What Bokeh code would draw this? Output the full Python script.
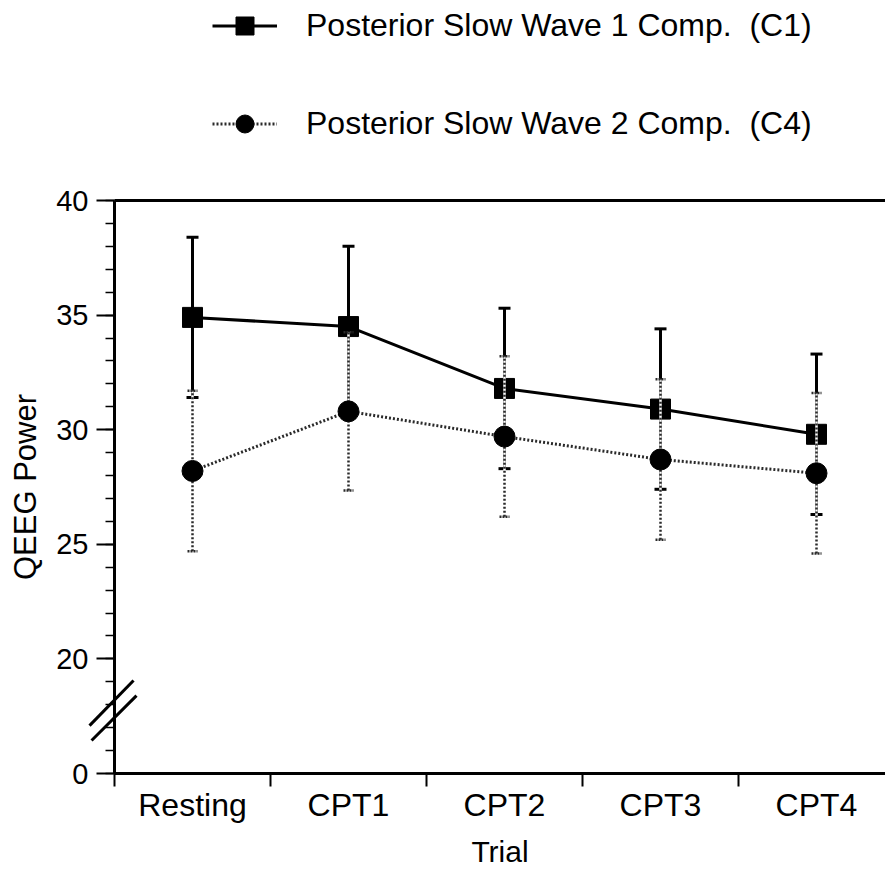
import numpy as np
from bokeh.plotting import figure
from bokeh.models import Range1d, FixedTicker, Legend, LegendItem, Arrow
from bokeh.embed import file_html
from bokeh.resources import INLINE

# ---------------- data ----------------
trials = ["Resting", "CPT1", "CPT2", "CPT3", "CPT4"]
c1_mean = [34.9, 34.5, 31.8, 30.9, 29.8]
c1_err = [3.5, 3.5, 3.5, 3.5, 3.5]
c2_mean = [28.2, 30.8, 29.7, 28.7, 28.1]
c2_err = [3.5, 3.45, 3.5, 3.5, 3.5]
y_major = [15, 20, 25, 30, 35, 40]
y_major_labels = ["0", "20", "25", "30", "35", "40"]
c1_label = "Posterior Slow Wave 1 Comp.  (C1)"
c2_label = "Posterior Slow Wave 2 Comp.  (C4)"
x_title = "Trial"
y_title = "QEEG Power"

# ---------------- style / layout ----------------
FONT = "Liberation Sans"
W, H = 885, 870                   # canvas
LEFT, TOP, BOTTOM = 114, 200, 97  # where the axes sit inside the canvas (px)
PX_PER_TRIAL = 156
PX_PER_UNIT = 573 / (y_major[-1] - y_major[0])
GREY = "#2a2a2a"

x = np.arange(len(trials)) + 0.5
c1m, c1e = np.array(c1_mean), np.array(c1_err)
c2m, c2e = np.array(c2_mean), np.array(c2_err)

x_lo, x_hi = -LEFT / PX_PER_TRIAL, (W - LEFT) / PX_PER_TRIAL
y_lo, y_hi = y_major[0] - BOTTOM / PX_PER_UNIT, y_major[-1] + TOP / PX_PER_UNIT

p = figure(width=W, height=H, output_backend="svg", toolbar_location=None,
           x_range=Range1d(x_lo, x_hi), y_range=Range1d(y_lo, y_hi),
           min_border_left=0, min_border_top=0, min_border_bottom=0, min_border_right=0)
p.outline_line_color = None
p.grid.visible = False

# top border line of the plotting box
p.segment([0], [y_major[-1]], [x_hi], [y_major[-1]], line_color="black", line_width=3)

# ---- C1 (solid black) ----
p.segment(x, c1m - c1e, x, c1m + c1e, line_color="black", line_width=3)
p.scatter(x, c1m + c1e, marker="dash", size=12, line_color="black", line_width=3)
p.scatter(x, c1m - c1e, marker="dash", size=12, line_color="black", line_width=3)
c1_line = p.line(x, c1m, line_color="black", line_width=3)
c1_pts = p.scatter(x, c1m, marker="square", size=20, fill_color="black", line_color="black")

# ---- C2 (dotted grey) ----
p.segment(x, c2m - c2e, x, c2m + c2e, line_color="white", line_width=2.5)
p.segment(x, c2m - c2e, x, c2m + c2e, line_color=GREY, line_width=2.5, line_dash="2 2")
p.scatter(x, c2m + c2e, marker="dash", size=10, line_color=GREY, line_width=2.5, line_dash="2 1")
p.scatter(x, c2m - c2e, marker="dash", size=10, line_color=GREY, line_width=2.5, line_dash="2 1")
c2_line = p.line(x, c2m, line_color=GREY, line_width=3, line_dash="2 2")
c2_pts = p.scatter(x, c2m, marker="circle", size=21, fill_color="black", line_color="black")

# ---- axes ----
xa = p.xaxis[0]
xa.fixed_location = y_major[0]
xa.bounds = (0, x_hi)
xa.ticker = FixedTicker(ticks=list(x), minor_ticks=list(range(len(trials) + 1)))
xa.major_label_overrides = {float(v): t for v, t in zip(x, trials)}
xa.major_tick_line_color = None
xa.major_tick_out = 0
xa.major_tick_in = 0
xa.minor_tick_line_color = "black"
xa.minor_tick_line_width = 2
xa.minor_tick_out = 13
xa.minor_tick_in = 0
xa.axis_line_width = 3
xa.axis_line_color = "black"
xa.major_label_text_font = FONT
xa.major_label_text_font_size = "32px"
xa.major_label_text_color = "black"
xa.major_label_standoff = 0
xa.axis_label = x_title
xa.axis_label_text_font = FONT
xa.axis_label_text_font_size = "30px"
xa.axis_label_text_font_style = "normal"
xa.axis_label_text_color = "black"
xa.axis_label_standoff = 9

ya = p.yaxis[0]
ya.fixed_location = 0
ya.bounds = (y_major[0], y_major[-1])
ya.ticker = FixedTicker(ticks=y_major, minor_ticks=list(range(y_major[0], y_major[-1] + 1)))
ya.major_label_overrides = {v: t for v, t in zip(y_major, y_major_labels)}
ya.major_tick_line_width = 2
ya.major_tick_out = 18
ya.major_tick_in = 0
ya.minor_tick_line_width = 1.5
ya.minor_tick_out = 9
ya.minor_tick_in = 0
ya.axis_line_width = 3
ya.axis_line_color = "black"
ya.major_label_text_font = FONT
ya.major_label_text_font_size = "29px"
ya.major_label_text_color = "black"
ya.major_label_standoff = 8
ya.axis_label = y_title
ya.axis_label_text_font = FONT
ya.axis_label_text_font_size = "31px"
ya.axis_label_text_font_style = "normal"
ya.axis_label_text_color = "black"
ya.axis_label_standoff = 10

# ---- axis break marks ----
for (xs, ys, xe, ye) in [(-0.160, 17.09, 0.122, 19.06), (-0.147, 16.44, 0.141, 18.40)]:
    p.add_layout(Arrow(x_start=xs, y_start=ys, x_end=xe, y_end=ye, start=None, end=None,
                       line_color="black", line_width=3))

# ---- legend (above the plotting box) ----
GLYPH_H, SPACING = 45, 53
legend_h = 2 * GLYPH_H + SPACING
legend = Legend(items=[LegendItem(label=c1_label, renderers=[c1_line, c1_pts]),
                       LegendItem(label=c2_label, renderers=[c2_line, c2_pts])],
                location=(212, H - legend_h - 3), orientation="vertical",
                glyph_width=65, glyph_height=GLYPH_H, spacing=SPACING, padding=0, margin=0,
                label_standoff=29, label_text_font=FONT, label_text_font_size="32px",
                label_text_color="black",
                border_line_color=None, background_fill_alpha=0)
p.add_layout(legend)

open("out.html", "w").write(file_html(p, INLINE))
